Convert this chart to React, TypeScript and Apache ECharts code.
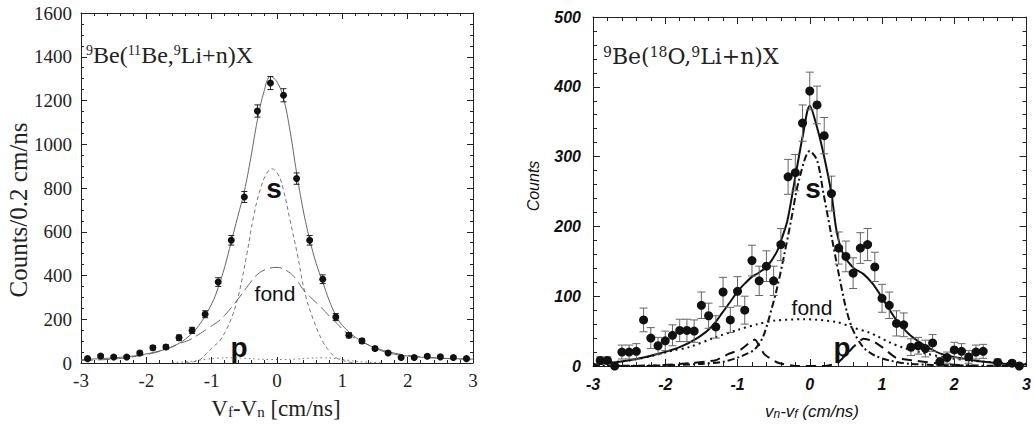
import React, { useEffect, useRef } from "react";
import * as echarts from "echarts";

// ---------- Left panel: 9Be(11Be,9Li+n)X ----------
const leftX = [-2.9, -2.7, -2.5, -2.3, -2.1, -1.9, -1.7, -1.5, -1.3, -1.1, -0.9, -0.7, -0.5, -0.3, -0.1, 0.1, 0.3, 0.5, 0.7, 0.9, 1.1, 1.3, 1.5, 1.7, 1.9, 2.1, 2.3, 2.5, 2.7, 2.9];
const leftCounts = [20, 32, 27, 27, 46, 70, 73, 116, 149, 223, 370, 561, 759, 1152, 1280, 1224, 843, 561, 383, 210, 127, 101, 66, 46, 25, 25, 31, 28, 25, 20];
const leftErr = [6, 7, 7, 7, 8, 10, 10, 12, 14, 16, 20, 22, 25, 28, 30, 30, 26, 22, 20, 16, 12, 11, 9, 8, 6, 6, 7, 7, 6, 6];

const leftTotal = [[-3, 16], [-2.7, 20], [-2.4, 26], [-2.1, 36], [-1.8, 55], [-1.6, 75], [-1.4, 110], [-1.2, 170], [-1.0, 270], [-0.9, 345], [-0.8, 440], [-0.7, 555], [-0.6, 670], [-0.5, 785], [-0.4, 940], [-0.3, 1110], [-0.2, 1240], [-0.1, 1310], [0, 1285], [0.1, 1210], [0.2, 1060], [0.3, 870], [0.4, 700], [0.5, 565], [0.6, 455], [0.7, 370], [0.8, 285], [0.9, 218], [1.0, 172], [1.2, 118], [1.4, 82], [1.6, 56], [1.8, 40], [2.1, 29], [2.5, 22], [3, 18]];
const leftS = [[-1.4, 0], [-1.2, 12], [-1.08, 43], [-0.97, 75], [-0.87, 104], [-0.78, 150], [-0.69, 210], [-0.62, 275], [-0.56, 347], [-0.46, 500], [-0.36, 668], [-0.26, 790], [-0.17, 860], [-0.08, 888], [0.02, 860], [0.1, 790], [0.2, 652], [0.31, 500], [0.43, 317], [0.56, 195], [0.69, 104], [0.79, 58], [0.9, 25], [1.05, 8], [1.2, 0]];
const leftFond = [[-3, 12], [-2.5, 18], [-2.07, 35], [-1.72, 60], [-1.49, 89], [-1.35, 104], [-1.2, 130], [-1.05, 160], [-0.9, 190], [-0.8, 218], [-0.61, 287], [-0.46, 347], [-0.3, 405], [-0.15, 430], [0, 437], [0.18, 416], [0.3, 380], [0.41, 332], [0.55, 290], [0.67, 256], [0.8, 215], [0.92, 180], [1.08, 134], [1.3, 98], [1.5, 70], [1.8, 45], [2.1, 32], [2.5, 22], [3, 16]];
const leftP = [[-1.6, 2], [-1.3, 8], [-1.1, 16], [-0.9, 22], [-0.7, 24], [-0.5, 22], [-0.3, 18], [-0.1, 16], [0.1, 16], [0.3, 18], [0.5, 22], [0.7, 24], [0.9, 20], [1.1, 12], [1.3, 5], [1.6, 1]];

// ---------- Right panel: 9Be(18O,9Li+n)X ----------
const rightX = [-2.9, -2.8, -2.7, -2.6, -2.5, -2.4, -2.3, -2.2, -2.1, -2.0, -1.9, -1.8, -1.7, -1.6, -1.5, -1.4, -1.3, -1.2, -1.1, -1.0, -0.9, -0.8, -0.7, -0.6, -0.5, -0.4, -0.3, -0.2, -0.1, 0, 0.1, 0.2, 0.3, 0.4, 0.5, 0.6, 0.7, 0.8, 0.9, 1.0, 1.1, 1.2, 1.3, 1.4, 1.5, 1.6, 1.7, 1.8, 1.9, 2.0, 2.1, 2.2, 2.3, 2.4, 2.6, 2.8, 2.9];
const rightCounts = [8, 8, 0, 20, 20, 21, 66, 40, 29, 36, 44, 51, 51, 50, 87, 72, 56, 106, 66, 107, 80, 151, 122, 143, 122, 174, 271, 277, 348, 394, 374, 330, 247, 169, 157, 133, 169, 174, 142, 97, 87, 61, 59, 27, 29, 25, 33, 6, 12, 23, 21, 13, 20, 21, 5, 4, 0];
const rightErr = [5, 5, 0, 10, 10, 11, 17, 15, 12, 14, 15, 16, 16, 16, 19, 18, 16, 21, 18, 21, 20, 22, 21, 22, 21, 23, 25, 26, 26, 27, 27, 26, 25, 23, 22, 22, 22, 23, 21, 20, 19, 18, 17, 12, 12, 12, 12, 6, 8, 11, 11, 9, 10, 10, 5, 4, 0];

const rightTotal = [[-3, 2], [-2.7, 5], [-2.4, 10], [-2.08, 18], [-1.8, 27], [-1.54, 41], [-1.35, 57], [-1.22, 75], [-1.1, 92], [-0.99, 108], [-0.9, 118], [-0.81, 127], [-0.7, 134], [-0.58, 144], [-0.45, 165], [-0.38, 185], [-0.31, 208], [-0.2, 271], [-0.1, 328], [0, 373], [0.1, 342], [0.19, 304], [0.3, 247], [0.37, 194], [0.46, 161], [0.6, 141], [0.74, 132], [0.87, 118], [1.0, 98], [1.19, 67], [1.37, 46], [1.6, 29], [1.83, 17], [2.28, 8], [2.73, 3], [3, 2]];
const rightS = [[-3, 0], [-2, 1], [-1.5, 3], [-1.2, 6], [-1, 12], [-0.86, 18], [-0.76, 24], [-0.65, 41], [-0.56, 70], [-0.45, 113], [-0.35, 161], [-0.26, 208], [-0.15, 266], [0, 308], [0.1, 295], [0.19, 247], [0.33, 170], [0.42, 122], [0.51, 79], [0.6, 51], [0.74, 27], [0.9, 15], [1.1, 8], [1.4, 3], [2, 1], [3, 0]];
const rightFond = [[-3, 3], [-2.5, 8], [-2.2, 14], [-1.9, 22], [-1.67, 27], [-1.31, 41], [-0.99, 52], [-0.72, 60], [-0.49, 65], [-0.08, 67], [0.37, 63], [0.6, 55], [0.82, 48], [0.95, 42], [1.1, 34], [1.3, 26], [1.6, 18], [1.9, 12], [2.3, 7], [3, 3]];
const rightP = [[-2.7, 0], [-2.26, 0], [-1.67, 4], [-1.31, 8], [-1.13, 17], [-0.95, 24], [-0.85, 32], [-0.76, 38], [-0.63, 17], [-0.45, 5], [-0.2, 0], [0.2, 0], [0.38, 4], [0.51, 17], [0.63, 30], [0.74, 39], [0.87, 36], [1.0, 27], [1.19, 12], [1.42, 8], [1.83, 3], [2.3, 0]];

const SERIF = "'Liberation Serif', 'Times New Roman', serif";
const CMSERIF = "'DejaVu Serif', 'Liberation Serif', serif";
const SANS = "'Liberation Sans', Arial, sans-serif";

function errorBars(xs: number[], ys: number[], es: number[], xi: number, yi: number, color: string, cap: number, lw: number) {
  return {
    type: "custom",
    xAxisIndex: xi,
    yAxisIndex: yi,
    silent: true,
    z: 3,
    data: xs.map((x, i) => [x, ys[i] - es[i], ys[i] + es[i]]),
    renderItem: (_p: any, api: any) => {
      const x = api.value(0);
      const a = api.coord([x, api.value(1)]);
      const b = api.coord([x, api.value(2)]);
      const st = { stroke: color, lineWidth: lw };
      return {
        type: "group",
        children: [
          { type: "line", shape: { x1: a[0], y1: a[1], x2: b[0], y2: b[1] }, style: st },
          { type: "line", shape: { x1: a[0] - cap, y1: a[1], x2: a[0] + cap, y2: a[1] }, style: st },
          { type: "line", shape: { x1: b[0] - cap, y1: b[1], x2: b[0] + cap, y2: b[1] }, style: st },
        ],
      };
    },
  };
}

const plain = (v: number) => String(v);

function xAx(grid: number, pos: "bottom" | "top", labelStyle: any, tickLen: number, margin: number) {
  return {
    type: "value",
    gridIndex: grid,
    position: pos,
    min: -3,
    max: 3,
    interval: 1,
    axisLine: { show: true, onZero: false, lineStyle: { color: "#222", width: 1 } },
    axisTick: { show: true, inside: true, length: tickLen, lineStyle: { color: "#222" } },
    minorTick: { show: true, splitNumber: 5, length: Math.round(tickLen / 2), lineStyle: { color: "#222" } },
    splitLine: { show: false },
    axisLabel: pos === "bottom" ? { ...labelStyle, margin, formatter: plain, showMinLabel: true, showMaxLabel: true } : { show: false },
  };
}

function yAx(grid: number, pos: "left" | "right", max: number, interval: number, minor: number, labelStyle: any, tickLen: number, margin: number) {
  return {
    type: "value",
    gridIndex: grid,
    position: pos,
    min: 0,
    max,
    interval,
    axisLine: { show: true, onZero: false, lineStyle: { color: "#222", width: 1 } },
    axisTick: { show: true, inside: true, length: tickLen, lineStyle: { color: "#222" } },
    minorTick: { show: true, splitNumber: minor, length: Math.round(tickLen / 2), lineStyle: { color: "#222" } },
    splitLine: { show: false },
    axisLabel: pos === "left" ? { ...labelStyle, margin, formatter: plain, showMinLabel: true, showMaxLabel: true } : { show: false },
  };
}

function curve(data: number[][], xi: number, yi: number, color: string, width: number, type: any, smooth: number) {
  return {
    type: "line",
    xAxisIndex: xi,
    yAxisIndex: yi,
    data,
    showSymbol: false,
    smooth,
    silent: true,
    z: 2,
    lineStyle: { color, width, type },
  };
}

export default function App() {
  const ref = useRef<HTMLDivElement>(null);
  useEffect(() => {
    const chart = echarts.init(ref.current!, null, { renderer: "svg" });
    const leftLabel = { fontFamily: SERIF, fontSize: 19, color: "#222" };
    const rightLabel = { fontFamily: SANS, fontSize: 16, fontWeight: "bold", fontStyle: "italic", color: "#111" };
    const option: any = {
      animation: false,
      backgroundColor: "#fff",
      grid: [
        { left: 81, top: 13, width: 392, height: 350 },
        { left: 593, top: 17, width: 440, height: 349 },
      ],
      xAxis: [
        xAx(0, "bottom", leftLabel, 6, 8),
        xAx(0, "top", leftLabel, 6, 8),
        xAx(1, "bottom", rightLabel, 7, 10),
        xAx(1, "top", rightLabel, 7, 10),
      ],
      yAxis: [
        yAx(0, "left", 1600, 200, 4, leftLabel, 6, 9),
        yAx(0, "right", 1600, 200, 4, leftLabel, 6, 9),
        yAx(1, "left", 500, 100, 5, rightLabel, 7, 12),
        yAx(1, "right", 500, 100, 5, rightLabel, 7, 12),
      ],
      series: [
        curve(leftTotal, 0, 0, "#666", 1, "solid", 0.4),
        curve(leftS, 0, 0, "#777", 1, [4, 3], 0.4),
        curve(leftFond, 0, 0, "#666", 1, [12, 5], 0.4),
        curve(leftP, 0, 0, "#777", 1, [1.5, 3], 0.4),
        errorBars(leftX, leftCounts, leftErr, 0, 0, "#222", 3, 1),
        {
          type: "scatter",
          xAxisIndex: 0,
          yAxisIndex: 0,
          symbolSize: 7,
          z: 4,
          itemStyle: { color: "#111", opacity: 1 },
          data: leftX.map((x, i) => [x, leftCounts[i]]),
        },
        curve(rightTotal, 2, 2, "#111", 2, "solid", 0.3),
        curve(rightS, 2, 2, "#111", 2, [7, 3, 2, 3], 0.3),
        curve(rightFond, 2, 2, "#111", 2, [2, 4], 0.3),
        curve(rightP, 2, 2, "#111", 2, [10, 6], 0.15),
        errorBars(rightX, rightCounts, rightErr, 2, 2, "#666", 4, 1),
        {
          type: "scatter",
          xAxisIndex: 2,
          yAxisIndex: 2,
          symbolSize: 9,
          z: 4,
          itemStyle: { color: "#111", opacity: 1 },
          data: rightX.map((x, i) => [x, rightCounts[i]]),
        },
      ],
      graphic: [
        {
          type: "text",
          x: 86,
          y: 43,
          style: {
            text: "{sup|9}Be({sup|11}Be,{sup|9}Li+n)X",
            fontFamily: SERIF,
            fontSize: 24,
            fill: "#222",
            rich: {
              sup: { fontFamily: SERIF, fontSize: 14, verticalAlign: "top", lineHeight: 15, fill: "#222" },
            },
          },
        },
        {
          type: "text",
          x: 18,
          y: 210,
          rotation: Math.PI / 2,
          style: { text: "Counts/0.2 cm/ns", fontFamily: SERIF, fontSize: 25, fill: "#222", align: "center", verticalAlign: "middle" },
        },
        {
          type: "text",
          x: 276,
          y: 408,
          style: {
            text: "V{sub|f}-V{sub|n} [cm/ns]",
            fontFamily: SERIF,
            fontSize: 23,
            fill: "#222",
            align: "center",
            verticalAlign: "middle",
            rich: { sub: { fontFamily: SERIF, fontSize: 15, verticalAlign: "bottom", lineHeight: 12, fill: "#222" } },
          },
        },
        { type: "text", x: 274, y: 188, style: { text: "s", fontFamily: SANS, fontWeight: "bold", fontSize: 28, fill: "#111", align: "center", verticalAlign: "middle" } },
        { type: "text", x: 275, y: 293, style: { text: "fond", fontFamily: SANS, fontSize: 21, fill: "#111", align: "center", verticalAlign: "middle" } },
        { type: "text", x: 239, y: 347, style: { text: "p", fontFamily: SANS, fontWeight: "bold", fontSize: 28, fill: "#111", align: "center", verticalAlign: "middle" } },
        {
          type: "text",
          x: 603,
          y: 45,
          style: {
            text: "{sup|9}Be({sup|18}O,{sup|9}Li+n)X",
            fontFamily: CMSERIF,
            fontSize: 22,
            fill: "#222",
            rich: {
              sup: { fontFamily: CMSERIF, fontSize: 14, verticalAlign: "top", lineHeight: 14, fill: "#222" },
            },
          },
        },
        {
          type: "text",
          x: 533,
          y: 186,
          rotation: Math.PI / 2,
          style: { text: "Counts", fontFamily: SANS, fontStyle: "italic", fontSize: 16, fill: "#111", align: "center", verticalAlign: "middle" },
        },
        {
          type: "text",
          x: 812,
          y: 411,
          style: {
            text: "v{sub|n}-v{sub|f} (cm/ns)",
            fontFamily: SANS,
            fontStyle: "italic",
            fontSize: 17,
            fill: "#111",
            align: "center",
            verticalAlign: "middle",
            rich: { sub: { fontFamily: SANS, fontStyle: "italic", fontSize: 12, verticalAlign: "bottom", lineHeight: 11, fill: "#111" } },
          },
        },
        { type: "text", x: 813, y: 188, style: { text: "s", fontFamily: SANS, fontWeight: "bold", fontSize: 28, fill: "#111", align: "center", verticalAlign: "middle" } },
        { type: "text", x: 812, y: 307, style: { text: "fond", fontFamily: SANS, fontSize: 21, fill: "#111", align: "center", verticalAlign: "middle" } },
        { type: "text", x: 842, y: 347, style: { text: "p", fontFamily: SANS, fontWeight: "bold", fontSize: 28, fill: "#111", align: "center", verticalAlign: "middle" } },
      ],
    };
    chart.setOption(option);
    return () => chart.dispose();
  }, []);
  return (
    <div
      ref={ref}
      style={{ position: "fixed", left: 0, top: 0, width: 1034, height: 431, background: "#fff" }}
    />
  );
}
